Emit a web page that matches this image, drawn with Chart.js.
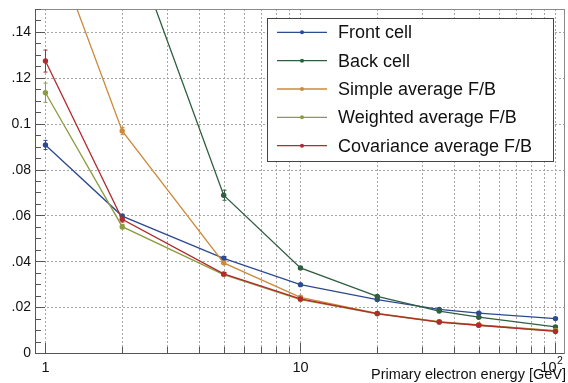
<!DOCTYPE html>
<html>
<head>
<meta charset="utf-8">
<script src="https://cdn.jsdelivr.net/npm/chart.js@4/dist/chart.umd.min.js"></script>
<style>
  html, body { margin: 0; padding: 0; background: #fff; overflow: hidden; }
  canvas { display: block; }
</style>
</head>
<body>
<canvas id="c" width="568" height="383"></canvas>
<script>
// Beam energies (GeV)
const energies = [1, 2, 5, 10, 20, 35, 50, 100];

// Energy resolution per reconstruction method
const frontCell     = [0.0907, 0.0597, 0.0413, 0.0298, 0.0233, 0.0190, 0.0174, 0.0150];
const backCell      = [0.270,  0.190,  0.0688, 0.0371, 0.0247, 0.0183, 0.0156, 0.0114];
const simpleAvg     = [0.187,  0.0968, 0.0393, 0.0243, 0.0173, 0.0137, 0.0123, 0.0098];
const weightedAvg   = [0.1135, 0.0551, 0.0342, 0.0233, 0.0171, 0.0135, 0.0121, 0.0096];
const covarianceAvg = [0.1273, 0.0583, 0.0345, 0.0236, 0.0172, 0.0135, 0.0121, 0.0094];

// Statistical uncertainties
const frontErr      = [0.0020, 0.0008, 0.0007, 0.0004, 0.0003, 0.0003, 0.0003, 0.0003];
const backErr       = [0.0100, 0.0060, 0.0022, 0.0006, 0.0004, 0.0003, 0.0003, 0.0003];
const simpleErr     = [0.0080, 0.0016, 0.0008, 0.0004, 0.0003, 0.0003, 0.0003, 0.0003];
const weightedErr   = [0.0042, 0.0010, 0.0006, 0.0004, 0.0003, 0.0003, 0.0003, 0.0003];
const covarianceErr = [0.0048, 0.0012, 0.0006, 0.0004, 0.0003, 0.0003, 0.0003, 0.0003];

const seriesNames  = ['Front cell', 'Back cell', 'Simple average F/B', 'Weighted average F/B', 'Covariance average F/B'];
const seriesColors = ['#2c4a8f', '#2f5e40', '#cc8a3a', '#8c9c3e', '#b02a2e'];

// Axis ticks and labels
const yTickValues = [0, 0.02, 0.04, 0.06, 0.08, 0.10, 0.12, 0.14];
const yTickLabels = ['0', '.02', '.04', '.06', '.08', '0.1', '.12', '.14'];
const xGridValues = [1, 2, 3, 4, 5, 6, 7, 8, 9, 10, 20, 30, 40, 50, 60, 70, 80, 90, 100];
const xLabelValues = [1, 10, 100];
const xLabelTexts  = ['1', '10', '10'];
const xLabelExps   = ['', '', '2'];
const xTitle = 'Primary electron energy [GeV]';

const FONT = "'Liberation Sans', Arial, Helvetica, sans-serif";

const seriesValues = [frontCell, backCell, simpleAvg, weightedAvg, covarianceAvg];
const seriesErrors = [frontErr, backErr, simpleErr, weightedErr, covarianceErr];

// ROOT-like decorations: dotted grid, error bars, frame, inward ticks, labels and legend
const rootStyle = {
  id: 'rootStyle',
  beforeDatasetsDraw(chart) {
    const { ctx, chartArea: a, scales: { x, y } } = chart;
    ctx.save();

    // dotted grid
    ctx.strokeStyle = '#a6a6a6';
    ctx.lineWidth = 1;
    ctx.setLineDash([2, 2]);
    ctx.beginPath();
    xGridValues.forEach(v => {
      const px = Math.round(x.getPixelForValue(v)) + 0.5;
      ctx.moveTo(px, a.top);
      ctx.lineTo(px, a.bottom);
    });
    yTickValues.forEach(v => {
      const py = Math.round(y.getPixelForValue(v)) + 0.5;
      ctx.moveTo(a.left, py);
      ctx.lineTo(a.right, py);
    });
    ctx.stroke();
    ctx.setLineDash([]);

    // error bars
    ctx.beginPath();
    ctx.rect(a.left, a.top, a.right - a.left, a.bottom - a.top);
    ctx.clip();
    ctx.lineWidth = 1;
    seriesValues.forEach((vals, i) => {
      ctx.strokeStyle = seriesColors[i];
      vals.forEach((v, j) => {
        const px = Math.round(x.getPixelForValue(energies[j])) + 0.5;
        const y1 = y.getPixelForValue(v + seriesErrors[i][j]);
        const y2 = y.getPixelForValue(v - seriesErrors[i][j]);
        ctx.beginPath();
        ctx.moveTo(px, y1); ctx.lineTo(px, y2);
        ctx.moveTo(px - 2, y1); ctx.lineTo(px + 2, y1);
        ctx.moveTo(px - 2, y2); ctx.lineTo(px + 2, y2);
        ctx.stroke();
      });
    });
    ctx.restore();
  },
  afterDatasetsDraw(chart) {
    const { ctx, chartArea: a, scales: { x, y } } = chart;
    ctx.save();

    // frame
    ctx.lineWidth = 1;
    ctx.strokeStyle = '#8a8a8a';
    ctx.strokeRect(Math.round(a.left) + 0.5, Math.round(a.top) + 0.5,
                   Math.round(a.right - a.left), Math.round(a.bottom - a.top));
    ctx.strokeStyle = '#555';
    ctx.beginPath();
    ctx.moveTo(Math.round(a.left) + 0.5, a.top);
    ctx.lineTo(Math.round(a.left) + 0.5, Math.round(a.bottom) + 0.5);
    ctx.lineTo(a.right, Math.round(a.bottom) + 0.5);
    ctx.stroke();

    // inward ticks on the y axis (major every 0.02, minor every 0.005)
    ctx.strokeStyle = '#555';
    ctx.beginPath();
    for (let k = 0; k <= 30; k++) {
      const v = k * 0.005;
      const py = Math.round(y.getPixelForValue(v)) + 0.5;
      const len = (k % 4 === 0) ? 10 : 6;
      ctx.moveTo(a.left, py);
      ctx.lineTo(a.left + len, py);
    }
    // inward ticks on the x axis
    xGridValues.forEach(v => {
      const px = Math.round(x.getPixelForValue(v)) + 0.5;
      const len = xLabelValues.includes(v) ? 10 : 6;
      ctx.moveTo(px, a.bottom);
      ctx.lineTo(px, a.bottom - len);
    });
    ctx.stroke();

    // y tick labels
    ctx.fillStyle = '#111';
    ctx.font = '14px ' + FONT;
    ctx.textAlign = 'right';
    ctx.textBaseline = 'middle';
    yTickValues.forEach((v, i) => {
      ctx.fillText(yTickLabels[i], a.left - 4, y.getPixelForValue(v) + 0.5);
    });

    // x tick labels
    ctx.font = '14.5px ' + FONT;
    xLabelValues.forEach((v, i) => {
      const px = x.getPixelForValue(v);
      if (xLabelExps[i]) {
        ctx.textAlign = 'right';
        ctx.textBaseline = 'middle';
        ctx.font = '14.5px ' + FONT;
        ctx.fillText(xLabelTexts[i], px + 1, 367.5);
        ctx.textAlign = 'left';
        ctx.textBaseline = 'alphabetic';
        ctx.font = '10.5px ' + FONT;
        ctx.fillText(xLabelExps[i], px + 1.5, 364);
        ctx.font = '14.5px ' + FONT;
      } else {
        ctx.textAlign = 'center';
        ctx.textBaseline = 'middle';
        ctx.fillText(xLabelTexts[i], px, 367.5);
      }
    });

    // x axis title
    ctx.font = '14.5px ' + FONT;
    ctx.textAlign = 'right';
    ctx.textBaseline = 'alphabetic';
    ctx.fillText(xTitle, 566, 379);

    // legend
    const lx = 267.5, ly = 18.5, lw = 286, lh = 143;
    ctx.fillStyle = '#fff';
    ctx.fillRect(lx, ly, lw, lh);
    ctx.strokeStyle = '#444';
    ctx.lineWidth = 1;
    ctx.strokeRect(lx, ly, lw, lh);
    ctx.font = '18px ' + FONT;
    ctx.textAlign = 'left';
    ctx.textBaseline = 'middle';
    seriesNames.forEach((name, i) => {
      const ry = 32.3 + i * 28.35;
      ctx.strokeStyle = seriesColors[i];
      ctx.lineWidth = 1.3;
      ctx.beginPath();
      ctx.moveTo(277, ry);
      ctx.lineTo(327, ry);
      ctx.stroke();
      ctx.fillStyle = seriesColors[i];
      ctx.beginPath();
      ctx.arc(302, ry, 2, 0, Math.PI * 2);
      ctx.fill();
      ctx.fillStyle = '#111';
      ctx.fillText(name, 338, ry + 1);
    });

    ctx.restore();
  }
};

new Chart(document.getElementById('c').getContext('2d'), {
  type: 'line',
  data: {
    datasets: seriesNames.map((name, i) => ({
      label: name,
      data: energies.map((e, j) => ({ x: e, y: seriesValues[i][j] })),
      borderColor: seriesColors[i],
      backgroundColor: seriesColors[i],
      borderWidth: 1.3,
      pointRadius: 2.7,
      pointHoverRadius: 2.7,
      pointBorderWidth: 0,
      tension: 0,
      order: seriesNames.length - i
    }))
  },
  options: {
    responsive: false,
    animation: false,
    devicePixelRatio: 1,
    events: [],
    layout: { padding: { left: 0, top: 9, right: 4, bottom: 0 } },
    plugins: { legend: { display: false }, tooltip: { enabled: false } },
    scales: {
      x: {
        type: 'logarithmic',
        min: 0.91,
        max: 108,
        afterBuildTicks: s => { s.ticks = xGridValues.map(v => ({ value: v })); },
        afterFit: s => { s.height = 30; },
        ticks: { display: false },
        grid: { display: false },
        border: { display: false }
      },
      y: {
        type: 'linear',
        min: 0,
        max: 0.15,
        afterBuildTicks: s => { s.ticks = yTickValues.map(v => ({ value: v })); },
        afterFit: s => { s.width = 35; },
        ticks: { display: false },
        grid: { display: false },
        border: { display: false }
      }
    }
  },
  plugins: [rootStyle]
});
</script>
</body>
</html>
